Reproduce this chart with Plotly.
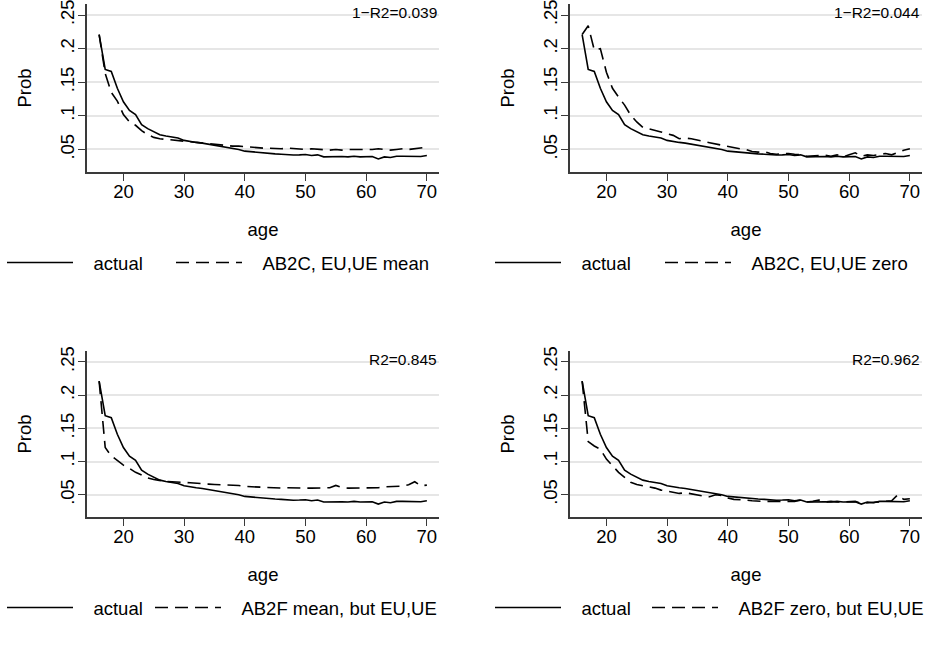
import plotly.graph_objects as go

ages = [16, 17, 18, 19, 20, 21, 22, 23, 24, 25, 26, 27, 28, 29, 30, 31, 32, 33, 34, 35,
        36, 37, 38, 39, 40, 41, 42, 43, 44, 45, 46, 47, 48, 49, 50, 51, 52, 53, 54, 55,
        56, 57, 58, 59, 60, 61, 62, 63, 64, 65, 66, 67, 68, 69, 70]

actual = [0.221, 0.169, 0.166, 0.141, 0.121, 0.108, 0.102, 0.087, 0.081, 0.076,
          0.072, 0.070, 0.068, 0.067, 0.0635, 0.0615, 0.0605, 0.0595, 0.058, 0.0565,
          0.055, 0.0535, 0.052, 0.050, 0.0475, 0.0465, 0.046, 0.045, 0.044, 0.0435,
          0.043, 0.042, 0.0418, 0.042, 0.0425, 0.041, 0.042, 0.039, 0.0395, 0.040,
          0.0395, 0.039, 0.040, 0.039, 0.0395, 0.0395, 0.036, 0.039, 0.038, 0.040,
          0.040, 0.040, 0.040, 0.0395, 0.041]

ab2c_mean = [0.221, 0.163, 0.135, 0.122, 0.102, 0.091, 0.086, 0.078, 0.072, 0.068,
             0.066, 0.065, 0.065, 0.064, 0.063, 0.061, 0.060, 0.060, 0.059, 0.058,
             0.057, 0.056, 0.055, 0.055, 0.054, 0.053, 0.053, 0.052, 0.052, 0.051,
             0.051, 0.052, 0.051, 0.051, 0.050, 0.051, 0.050, 0.050, 0.049, 0.050,
             0.049, 0.050, 0.050, 0.049, 0.049, 0.050, 0.051, 0.050, 0.049, 0.050,
             0.051, 0.050, 0.051, 0.052, 0.0535]

ab2c_zero = [0.221, 0.234, 0.198, 0.200, 0.165, 0.141, 0.128, 0.116, 0.101, 0.091,
             0.083, 0.081, 0.078, 0.076, 0.0735, 0.071, 0.066, 0.067, 0.066, 0.0645,
             0.062, 0.060, 0.058, 0.057, 0.055, 0.053, 0.051, 0.050, 0.047, 0.046,
             0.047, 0.044, 0.043, 0.0435, 0.044, 0.043, 0.0425, 0.040, 0.040, 0.041,
             0.0415, 0.040, 0.042, 0.039, 0.042, 0.045, 0.040, 0.042, 0.041, 0.042,
             0.044, 0.042, 0.046, 0.049, 0.051]

ab2f_mean = [0.221, 0.121, 0.1085, 0.101, 0.0946, 0.0897, 0.0837, 0.0798, 0.0753, 0.073,
             0.0713, 0.070, 0.0695, 0.0685, 0.0685, 0.068, 0.067, 0.0665, 0.066, 0.0655,
             0.065, 0.0645, 0.065, 0.064, 0.0625, 0.062, 0.062, 0.062, 0.061, 0.0605,
             0.060, 0.0605, 0.060, 0.060, 0.060, 0.060, 0.0605, 0.0605, 0.0605, 0.064,
             0.061, 0.060, 0.060, 0.061, 0.061, 0.061, 0.0605, 0.062, 0.0625, 0.062,
             0.063, 0.065, 0.0695, 0.0635, 0.0645]

ab2f_zero = [0.221, 0.130, 0.1234, 0.1185, 0.1036, 0.0937, 0.0837, 0.0763, 0.0689, 0.0654,
             0.0639, 0.062, 0.060, 0.057, 0.055, 0.054, 0.052, 0.053, 0.051, 0.050,
             0.048, 0.047, 0.050, 0.049, 0.045, 0.043, 0.043, 0.042, 0.041, 0.040,
             0.040, 0.040, 0.040, 0.041, 0.041, 0.040, 0.042, 0.039, 0.040, 0.042,
             0.039, 0.040, 0.039, 0.039, 0.040, 0.040, 0.037, 0.038, 0.039, 0.040,
             0.040, 0.041, 0.050, 0.043, 0.044]

model_series = [ab2c_mean, ab2c_zero, ab2f_mean, ab2f_zero]
model_names = ["AB2C, EU,UE mean", "AB2C, EU,UE zero",
               "AB2F mean, but EU,UE", "AB2F zero, but EU,UE"]
fit_labels = ["1\u2212R2=0.039", "1\u2212R2=0.044", "R2=0.845", "R2=0.962"]

y_tickvals = [0.05, 0.10, 0.15, 0.20, 0.25]
y_ticktext = [".05", ".1", ".15", ".2", ".25"]
x_tickvals = [20, 30, 40, 50, 60, 70]

W, H = 925, 652
FONT = "Liberation Sans, Arial, Helvetica, sans-serif"
AX = "#3a3a3a"
GAP = "\u00a0\u00a0\u00a0"
DASH = "13px,7px"

# panel pixel boxes: (left, right, top, bottom)
boxes = [(87, 439, 4, 172), (570, 922, 4, 172),
         (87, 439, 351, 517), (570, 922, 351, 517)]
# legend positions: (x of "actual" entry, x of model entry, centre y)
legend_pos = [(2, 171, 263), (490, 660, 263), (2, 150, 608), (490, 647, 608)]

fig = go.Figure()

for i in range(4):
    xa = "x" if i == 0 else f"x{i+1}"
    ya = "y" if i == 0 else f"y{i+1}"
    lg_a = "legend" if i == 0 else f"legend{2 * i + 1}"
    lg_m = f"legend{2 * i + 2}"
    fig.add_trace(go.Scatter(x=ages, y=actual, mode="lines", name=GAP + "actual",
                             line=dict(color="black", width=1.6),
                             xaxis=xa, yaxis=ya, legend=lg_a, showlegend=True))
    fig.add_trace(go.Scatter(x=ages, y=model_series[i], mode="lines",
                             name=GAP + model_names[i],
                             line=dict(color="black", width=1.6, dash=DASH),
                             xaxis=xa, yaxis=ya, legend=lg_m, showlegend=True))

layout = dict(width=W, height=H, showlegend=True,
              margin=dict(l=0, r=0, t=0, b=0, autoexpand=False),
              paper_bgcolor="white", plot_bgcolor="white",
              font=dict(family=FONT, size=18.5, color="black"),
              annotations=[])

for i, (l, r, t, b) in enumerate(boxes):
    xk = "xaxis" if i == 0 else f"xaxis{i+1}"
    yk = "yaxis" if i == 0 else f"yaxis{i+1}"
    xa = "x" if i == 0 else f"x{i+1}"
    ya = "y" if i == 0 else f"y{i+1}"
    layout[xk] = dict(domain=[l / W, r / W], anchor=ya, range=[14, 72],
                      tickvals=x_tickvals, ticks="outside", ticklen=7,
                      tickwidth=1.3, tickcolor=AX, showline=True, linecolor=AX,
                      linewidth=1.5, showgrid=False, zeroline=False,
                      tickfont=dict(size=18.5), ticklabelstandoff=-5,
                      title=dict(text="age", font=dict(size=18.5), standoff=22))
    layout[yk] = dict(domain=[1 - b / H, 1 - t / H], anchor=xa,
                      range=[0.0165, 0.2664], tickvals=y_tickvals,
                      ticktext=y_ticktext, tickangle=-90, ticks="outside",
                      ticklen=7, tickwidth=1.3, tickcolor=AX, showline=True,
                      linecolor=AX, linewidth=1.5, showgrid=True,
                      gridcolor="#e6e6e6", gridwidth=1.5, zeroline=False,
                      tickfont=dict(size=18.5), ticklabelstandoff=-3,
                      ticklabeloverflow="allow",
                      title=dict(text="Prob", font=dict(size=18.5), standoff=20))
    layout["annotations"].append(dict(
        text=fit_labels[i], xref=f"{xa} domain", yref=f"{ya} domain",
        x=1.0, y=0.95, xanchor="right", yanchor="middle", showarrow=False,
        font=dict(size=15.5, color="black")))
    xa_pos, xm_pos, ly = legend_pos[i]
    lg_a = "legend" if i == 0 else f"legend{2 * i + 1}"
    lg_m = f"legend{2 * i + 2}"
    for key, lx in ((lg_a, xa_pos), (lg_m, xm_pos)):
        layout[key] = dict(x=lx / W, y=1 - ly / H, xanchor="left",
                           yanchor="middle", orientation="h",
                           font=dict(size=18.5), itemwidth=66,
                           bgcolor="rgba(0,0,0,0)")

fig.update_layout(**layout)
fig.write_html("out.html", config={"displayModeBar": False},
               post_script="document.body.style.margin='0';"
                           "document.body.style.overflow='hidden';")
